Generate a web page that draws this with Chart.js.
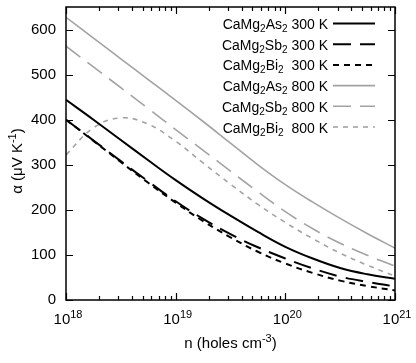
<!DOCTYPE html>
<html>
<head>
<meta charset="utf-8">
<script src="https://cdn.jsdelivr.net/npm/chart.js@4.4.1/dist/chart.umd.min.js"></script>
<style>
  html, body { margin: 0; padding: 0; background: #fff; }
  #wrap { width: 416px; height: 363px; }
</style>
</head>
<body>
<div id="wrap"><canvas id="seebeck" width="416" height="363"></canvas></div>
<script>
// hole concentration (cm^-3), quarter decades
const density = [1e18, 1.78e18, 3.16e18, 5.62e18, 1e19, 1.78e19, 3.16e19, 5.62e19, 1e20, 1.78e20, 3.16e20, 5.62e20, 1e21];

// Seebeck coefficient (uV/K)
const as300 = [444, 400, 355, 310, 266, 225, 187, 151, 118, 92, 71, 57, 47];
const sb300 = [400, 354, 308, 263, 219, 180, 146, 117, 92, 70, 52, 40, 30];
const bi300 = [400, 353, 306, 260, 216, 175, 139, 107, 81, 60, 43, 31, 21];
const as800 = [627, 581, 535, 489, 443, 396, 348, 300, 256, 217, 181, 147, 115];
const sb800 = [563, 517, 471, 425, 378, 332, 286, 240, 196, 158, 126, 99, 75];
const bi800 = [322, 382, 404, 390, 352, 304, 257, 212, 172, 136, 104, 77, 53];

const yTicks = [0, 100, 200, 300, 400, 500, 600];
const xDecades = [18, 19, 20, 21];

const FONT = '"Liberation Sans", Arial, sans-serif';
const GREY = '#a3a3a3';

function mkSet(name, temp, data, color, width, dash) {
  return {
    label: name + ' ' + temp,
    compound: name,
    temp: temp,
    data: density.map((n, i) => ({ x: n, y: data[i] })),
    borderColor: color,
    borderWidth: width,
    borderDash: dash,
    pointRadius: 0,
    fill: false,
    tension: 0.4
  };
}

// draw text made of parts, some raised (sup) or lowered (sub)
function richWidth(ctx, parts, size) {
  let w = 0;
  parts.forEach(p => {
    ctx.font = (p.sup || p.sub ? Math.round(size * 0.7) : size) + 'px ' + FONT;
    w += ctx.measureText(p.t).width;
  });
  return w;
}
function drawRich(ctx, parts, x, y, size, align) {
  const w = richWidth(ctx, parts, size);
  let cx = x;
  if (align === 'center') cx = x - w / 2;
  if (align === 'right') cx = x - w;
  ctx.textAlign = 'left';
  ctx.textBaseline = 'alphabetic';
  parts.forEach(p => {
    const small = p.sup || p.sub;
    ctx.font = (small ? Math.round(size * 0.7) : size) + 'px ' + FONT;
    let dy = 0;
    if (p.sup) dy = -size * 0.42;
    if (p.sub) dy = size * 0.22;
    ctx.fillText(p.t, cx, y + dy);
    cx += ctx.measureText(p.t).width;
  });
}

const framePlugin = {
  id: 'frame',
  afterDraw(chart) {
    const ctx = chart.ctx;
    const a = chart.chartArea;
    const xs = chart.scales.x;
    const ys = chart.scales.y;
    ctx.save();
    ctx.fillStyle = '#000';
    ctx.strokeStyle = '#000';
    ctx.lineWidth = 1.2;

    // inward ticks
    ctx.beginPath();
    for (let d = 18; d <= 21; d++) {
      for (let m = 1; m <= 9; m++) {
        const v = m * Math.pow(10, d);
        if (v > 1e21) break;
        const px = Math.round(xs.getPixelForValue(v)) + 0.5;
        const len = m === 1 ? 7 : 4;
        ctx.moveTo(px, a.bottom); ctx.lineTo(px, a.bottom - len);
        ctx.moveTo(px, a.top); ctx.lineTo(px, a.top + len);
      }
    }
    yTicks.forEach(v => {
      const py = Math.round(ys.getPixelForValue(v)) + 0.5;
      ctx.moveTo(a.left, py); ctx.lineTo(a.left + 7, py);
      ctx.moveTo(a.right, py); ctx.lineTo(a.right - 7, py);
    });
    ctx.stroke();

    // box
    ctx.lineWidth = 1.5;
    ctx.strokeRect(a.left, a.top, a.right - a.left, a.bottom - a.top);

    // x tick labels 10^n
    xDecades.forEach(d => {
      const px = xs.getPixelForValue(Math.pow(10, d));
      drawRich(ctx, [{ t: '10' }, { t: String(d), sup: true }], px + 2, 324, 15, 'center');
    });

    // axis titles
    drawRich(ctx, [{ t: 'n (holes cm' }, { t: '-3', sup: true }, { t: ')' }],
      (a.left + a.right) / 2, 348, 15, 'center');
    ctx.save();
    ctx.translate(22, 161);
    ctx.rotate(-Math.PI / 2);
    drawRich(ctx, [{ t: '\u03b1 (\u03bcV K' }, { t: '-1', sup: true }, { t: ')' }], 0, 0, 15, 'center');
    ctx.restore();

    // legend, gnuplot style: right aligned text then a line sample
    chart.data.datasets.forEach((ds, i) => {
      const y = 23.5 + i * 20.7;
      const name = ds.compound.match(/^CaMg2(\w+)2$/)[1];
      ctx.fillStyle = '#000';
      drawRich(ctx, [{ t: 'CaMg' }, { t: '2', sub: true }, { t: name }, { t: '2', sub: true },
        { t: (name === 'Bi' ? '  ' : ' ') + ds.temp }], 328, y + 5.5, 14, 'right');
      ctx.beginPath();
      ctx.strokeStyle = ds.borderColor;
      ctx.lineWidth = ds.borderWidth;
      ctx.setLineDash(ds.borderDash);
      ctx.moveTo(333, y);
      ctx.lineTo(375, y);
      ctx.stroke();
      ctx.setLineDash([]);
    });
    ctx.restore();
  }
};

const ctx = document.getElementById('seebeck').getContext('2d');
new Chart(ctx, {
  type: 'line',
  data: {
    datasets: [
      mkSet('CaMg2As2', '300 K', as300, '#000', 2, []),
      mkSet('CaMg2Sb2', '300 K', sb300, '#000', 2, [18, 9]),
      mkSet('CaMg2Bi2', '300 K', bi300, '#000', 2, [6, 5]),
      mkSet('CaMg2As2', '800 K', as800, GREY, 1.6, []),
      mkSet('CaMg2Sb2', '800 K', sb800, GREY, 1.6, [18, 9]),
      mkSet('CaMg2Bi2', '800 K', bi800, GREY, 1.6, [5, 5])
    ]
  },
  options: {
    responsive: false,
    animation: false,
    layout: { padding: { top: 7, right: 21, left: 0, bottom: 0 } },
    plugins: { legend: { display: false }, tooltip: { enabled: false } },
    scales: {
      x: {
        type: 'logarithmic',
        min: 1e18,
        max: 1e21,
        grid: { display: false, drawTicks: false },
        border: { display: false },
        ticks: { display: false },
        afterFit: s => {
          s.height = 63;
          s.paddingLeft = 0; s.paddingRight = 0;
        }
      },
      y: {
        min: 0,
        max: 650,
        grid: { display: false, drawTicks: false },
        border: { display: false },
        afterBuildTicks: s => { s.ticks = yTicks.map(v => ({ value: v })); },
        ticks: { color: '#000', padding: 10, font: { family: FONT, size: 15 } },
        afterFit: s => {
          s.width = 66;
          s.paddingTop = 0; s.paddingBottom = 0;
        }
      }
    }
  },
  plugins: [framePlugin]
});
</script>
</body>
</html>
